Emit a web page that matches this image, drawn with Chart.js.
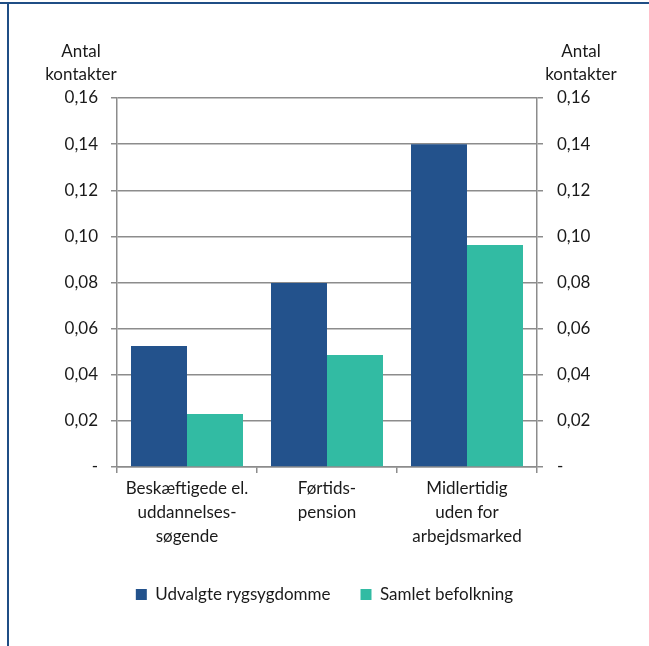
<!DOCTYPE html>
<html>
<head>
<meta charset="utf-8">
<script src="https://cdn.jsdelivr.net/npm/chart.js@4"></script>
<style>
  html, body { margin: 0; padding: 0; background: #fff; }
  #wrap { position: relative; width: 649px; height: 646px; overflow: hidden; }
  #topLine { position: absolute; left: 0; top: 2px; width: 649px; height: 2px; background: #1f4e85; }
  #leftLine { position: absolute; left: 7px; top: 3px; width: 2px; height: 643px; background: #1f4e85; }
  canvas { position: absolute; left: 0; top: 0; }
</style>
</head>
<body>
<div id="wrap">
  <canvas id="chart" width="649" height="646"></canvas>
  <div id="topLine"></div>
  <div id="leftLine"></div>
</div>
<script>
// Data
const categories = [
    ['Beskæftigede el.', 'uddannelses-', 'søgende'],
    ['Førtids-', 'pension'],
    ['Midlertidig', 'uden for', 'arbejdsmarked']
];
const seriesNames = ['Udvalgte rygsygdomme', 'Samlet befolkning'];
const rygsygdomme = [0.0525, 0.0798, 0.140];
const befolkning = [0.0230, 0.0486, 0.0963];
const yTicks = [0, 0.02, 0.04, 0.06, 0.08, 0.10, 0.12, 0.14, 0.16];
const axisTitle = ['Antal', 'kontakter'];

const FONT = 'Lato, "Open Sans", sans-serif';
const TEXT = '#1a1a1a';
const GRID = '#8c8c8c';

function fmtTick(v) {
    if (Math.abs(v) < 1e-9) return '-';
    return v.toFixed(2).replace('.', ',');
}

// Axis titles over both y axes
const axisTitlePlugin = {
    id: 'axisTitles',
    afterDraw(chart) {
        const { ctx, chartArea } = chart;
        ctx.save();
        ctx.font = '17px ' + FONT;
        ctx.fillStyle = TEXT;
        ctx.textAlign = 'center';
        ctx.textBaseline = 'middle';
        const xs = [chartArea.left - 36, chartArea.right + 44];
        xs.forEach(x => {
            ctx.fillText(axisTitle[0], x, 52);
            ctx.fillText(axisTitle[1], x, 75);
        });
        ctx.restore();
    }
};

const tickOpts = {
    color: TEXT,
    font: { family: FONT, size: 17 },
    padding: 13,
    callback: v => fmtTick(v)
};

new Chart(document.getElementById('chart'), {
    type: 'bar',
    data: {
        labels: categories,
        datasets: [
            { label: seriesNames[0], data: rygsygdomme, backgroundColor: '#23528c' },
            { label: seriesNames[1], data: befolkning, backgroundColor: '#32bba3' }
        ]
    },
    options: {
        responsive: false,
        animation: false,
        layout: { padding: { top: 98, right: 0, left: 0, bottom: 33 } },
        datasets: {
            bar: { categoryPercentage: 0.8, barPercentage: 1.0 }
        },
        scales: {
            x: {
                grid: { display: true, drawOnChartArea: false, drawTicks: true, tickLength: 6, color: GRID, lineWidth: 1.5 },
                border: { display: true, color: GRID, width: 1.5 },
                ticks: {
                    color: TEXT,
                    font: { family: FONT, size: 17, lineHeight: 1.4 },
                    maxRotation: 0,
                    autoSkip: false,
                    padding: 4
                },
                afterFit(scale) { scale.height = 89; }
            },
            y: {
                position: 'left',
                min: 0,
                max: 0.16,
                afterBuildTicks(scale) { scale.ticks = yTicks.map(v => ({ value: v })); },
                grid: { color: GRID, lineWidth: 1.5, tickLength: 6 },
                border: { display: true, color: GRID, width: 1.5 },
                ticks: tickOpts,
                afterFit(scale) { scale.width = 117; }
            },
            y2: {
                position: 'right',
                min: 0,
                max: 0.16,
                afterBuildTicks(scale) { scale.ticks = yTicks.map(v => ({ value: v })); },
                grid: { drawOnChartArea: false, color: GRID, lineWidth: 1.5, tickLength: 6 },
                border: { display: true, color: GRID, width: 1.5 },
                ticks: Object.assign({}, tickOpts, { padding: 14 }),
                afterFit(scale) { scale.width = 112; }
            }
        },
        plugins: {
            legend: {
                position: 'bottom',
                labels: {
                    color: TEXT,
                    font: { family: FONT, size: 17 },
                    boxWidth: 11,
                    boxHeight: 11,
                    padding: 30
                }
            },
            tooltip: { enabled: false }
        }
    },
    plugins: [axisTitlePlugin]
});
</script>
</body>
</html>
